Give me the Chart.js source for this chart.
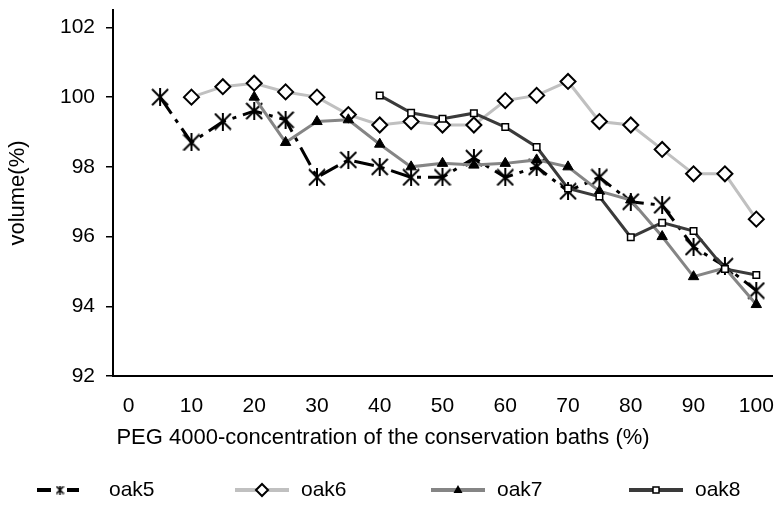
<!DOCTYPE html>
<html><head><meta charset="utf-8">
<script src="https://cdn.jsdelivr.net/npm/chart.js@4/dist/chart.umd.min.js"></script>
<style>html,body{margin:0;padding:0;background:#fff}</style>
</head><body>
<canvas id="c" width="783" height="521"></canvas>
<script>
// ---- data ----
const categories = ['0','5','10','15','20','25','30','35','40','45','50','55','60','65','70','75','80','85','90','95','100'];
const tickLabels = ['0','10','20','30','40','50','60','70','80','90','100'];
const seriesNames = ['oak5','oak6','oak7','oak8'];
const oak5 = [null,100.0,98.7,99.3,99.6,99.35,97.7,98.2,98.0,97.7,97.7,98.25,97.7,98.0,97.3,97.7,97.0,96.9,95.7,95.15,94.45];
const oak6 = [null,null,100.0,100.3,100.4,100.15,100.0,99.5,99.2,99.3,99.2,99.2,99.9,100.05,100.45,99.3,99.2,98.5,97.8,97.8,96.5];
const oak7 = [null,null,null,null,100.0,98.7,99.3,99.35,98.65,98.0,98.1,98.05,98.1,98.2,98.0,97.3,97.05,96.0,94.85,95.1,94.05];
const oak8 = [null,null,null,null,null,null,null,null,100.05,99.55,99.38,99.54,99.14,98.57,97.38,97.15,95.98,96.4,96.16,95.07,94.9];
const yTicks = [92,94,96,98,100,102];
const xTitle = 'PEG 4000-concentration of the conservation baths (%)';
const yTitle = 'volume(%)';

const FONT = '"Liberation Sans", Arial, sans-serif';

function makeAsterisk(size, lw){
  const c = document.createElement('canvas');
  c.width = size; c.height = size;
  const g = c.getContext('2d');
  g.strokeStyle = '#000'; g.lineWidth = lw;
  const m = lw/2;
  g.beginPath();
  g.moveTo(m,m); g.lineTo(size-m,size-m);
  g.moveTo(size-m,m); g.lineTo(m,size-m);
  g.moveTo(size/2,0); g.lineTo(size/2,size);
  g.stroke();
  return c;
}
const asterisk = makeAsterisk(18, 2);
const asteriskSmall = makeAsterisk(9, 1.6);

const styles = [
  {color:'#000000', dash:[20,7,4,7], point:asterisk, radius:9, bg:'#000', bw:1},
  {color:'#c0c0c0', dash:[], point:'rectRot', radius:7.5, bg:'#ffffff', bw:2},
  {color:'#858585', dash:[], point:'triangle', radius:6, bg:'#000000', bw:1},
  {color:'#3a3a3a', dash:[], point:'rect', radius:4.6, bg:'#ffffff', bw:1.5}
];
const seriesData = [oak5, oak6, oak7, oak8];

const datasets = seriesData.map((d,i)=>({
  label: seriesNames[i],
  data: d,
  borderColor: styles[i].color,
  borderWidth: 3,
  borderDash: styles[i].dash,
  borderCapStyle: 'butt',
  tension: 0,
  pointStyle: styles[i].point,
  pointRadius: styles[i].radius,
  pointHoverRadius: styles[i].radius,
  pointBackgroundColor: styles[i].bg,
  pointBorderColor: '#000',
  pointBorderWidth: styles[i].bw,
  order: 4 - i
}));

const extras = {
  id: 'extras',
  afterDraw(chart){
    const ctx = chart.ctx;
    ctx.save();
    ctx.fillStyle = '#000';
    ctx.font = '22px ' + FONT;
    ctx.textAlign = 'center';
    ctx.textBaseline = 'middle';
    ctx.fillText(xTitle, 383, 438);

    // legend
    const starts = [37, 235, 431, 629];
    const y = 490;
    ctx.font = '21px ' + FONT;
    ctx.textAlign = 'left';
    seriesNames.forEach((name,i)=>{
      const s = starts[i];
      const st = styles[i];
      ctx.strokeStyle = st.color;
      ctx.lineWidth = 4;
      ctx.setLineDash([]);
      ctx.beginPath();
      if (i === 0) {
        ctx.moveTo(s, y); ctx.lineTo(s+14, y);
        ctx.moveTo(s+30, y); ctx.lineTo(s+42, y);
      } else {
        ctx.moveTo(s, y); ctx.lineTo(s+54, y);
      }
      ctx.stroke();
      const mx = i === 0 ? s + 23 : s + 27;
      ctx.fillStyle = st.bg; ctx.strokeStyle = '#000';
      if (i === 0) {
        ctx.drawImage(asteriskSmall, mx - 4.5, y - 4.5);
      } else if (i === 1) {
        const r = 6;
        ctx.lineWidth = 2;
        ctx.beginPath(); ctx.moveTo(mx-r,y); ctx.lineTo(mx,y-r); ctx.lineTo(mx+r,y); ctx.lineTo(mx,y+r); ctx.closePath();
        ctx.fill(); ctx.stroke();
      } else if (i === 2) {
        ctx.fillStyle = '#000';
        ctx.beginPath(); ctx.moveTo(mx, y-5); ctx.lineTo(mx+4.5, y+3); ctx.lineTo(mx-4.5, y+3); ctx.closePath(); ctx.fill();
      } else {
        ctx.lineWidth = 1.5;
        ctx.fillRect(mx-3, y-3, 6, 6); ctx.strokeRect(mx-3, y-3, 6, 6);
      }
      ctx.fillStyle = '#000';
      const tx = i === 0 ? s + 72 : s + 66;
      ctx.fillText(name, tx, y);
    });
    ctx.restore();
  }
};

new Chart(document.getElementById('c'), {
  type: 'line',
  data: { labels: categories, datasets },
  options: {
    responsive: false,
    animation: false,
    devicePixelRatio: 1,
    layout: { padding: { top: 10, right: 11, left: 0, bottom: 0 } },
    plugins: { legend: { display: false }, tooltip: { enabled: false } },
    scales: {
      x: {
        type: 'category',
        offset: true,
        grid: { display: false, drawTicks: false },
        border: { display: true, color: '#000', width: 2 },
        ticks: {
          autoSkip: false, maxRotation: 0, padding: 18, color: '#000',
          font: { size: 21, family: FONT },
          callback: (v, i) => tickLabels.includes(categories[i]) ? categories[i] : ''
        },
        afterFit: s => { s.height = 145; s.paddingLeft = 0; s.paddingRight = 0; }
      },
      y: {
        min: 92, max: 102.5,
        afterBuildTicks: s => { s.ticks = yTicks.map(v => ({ value: v })); },
        grid: { display: true, drawOnChartArea: false, drawTicks: true, tickLength: 7, color: '#000', lineWidth: 1.5 },
        border: { display: true, color: '#000', width: 2 },
        ticks: { padding: 11, color: '#000', font: { size: 21, family: FONT } },
        title: { display: true, text: yTitle, color: '#000', font: { size: 22, family: FONT }, padding: { top: 5, bottom: 0 } },
        afterFit: s => { s.width = 113; s.paddingTop = 0; s.paddingBottom = 0; }
      }
    }
  },
  plugins: [extras]
});
</script>
</body></html>
